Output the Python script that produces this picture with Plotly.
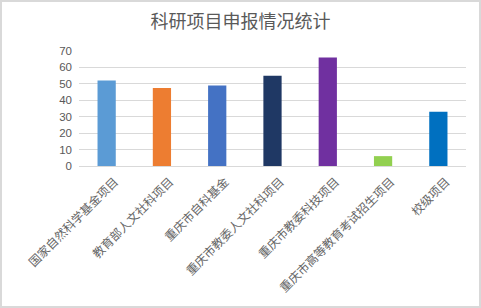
import plotly.graph_objects as go

categories = ["国家自然科学基金项目", "教育部人文社科项目", "重庆市自科基金", "重庆市教委人文社科项目",
              "重庆市教委科技项目", "重庆市高等教育考试招生项目", "校级项目"]
values = [52, 47.5, 49, 55, 66, 6, 33]
colors = ["#5B9BD5", "#ED7D31", "#4472C4", "#1F3864", "#7030A0", "#92D050", "#0070C0"]
y_ticks = [0, 10, 20, 30, 40, 50, 60, 70]

FONT = "Noto Sans CJK SC"

fig = go.Figure(go.Bar(x=categories, y=values, marker=dict(color=colors, line=dict(width=0)),
                       width=0.33))

L, R, T, B = 79, 15, 51, 142
W, H = 481, 308
pw, ph = W - L - R, H - T - B

fig.update_layout(
    width=W, height=H,
    margin=dict(l=L, r=R, t=T, b=B),
    paper_bgcolor="white", plot_bgcolor="white",
    showlegend=False,
    title=dict(text="科研项目申报情况统计", x=0.5, xanchor="center", y=1 - 22 / H, yanchor="middle",
               font=dict(family=FONT, size=18, color="#595959")),
    font=dict(family=FONT, color="#595959"),
    xaxis=dict(tickangle=-45, tickfont=dict(family=FONT, size=12, color="#666666"),
               ticklabelshift=8, ticklabelstandoff=3,
               showgrid=False, showline=True, linecolor="#D9D9D9", linewidth=1, ticks=""),
    yaxis=dict(range=[0, 70], tickvals=y_ticks, showgrid=True, gridcolor="#D9D9D9", gridwidth=1,
               zeroline=False, showline=False, ticks="", ticklabelstandoff=6,
               tickfont=dict(family="Liberation Sans", size=11.5, color="#595959")),
    shapes=[dict(type="rect", xref="paper", yref="paper",
                 x0=-(L - 1) / pw, x1=1 + (R - 1) / pw, y0=-(B - 1) / ph, y1=1 + (T - 1) / ph,
                 line=dict(color="#D9D9D9", width=2), layer="below")],
)

fig.write_html("out.html")
